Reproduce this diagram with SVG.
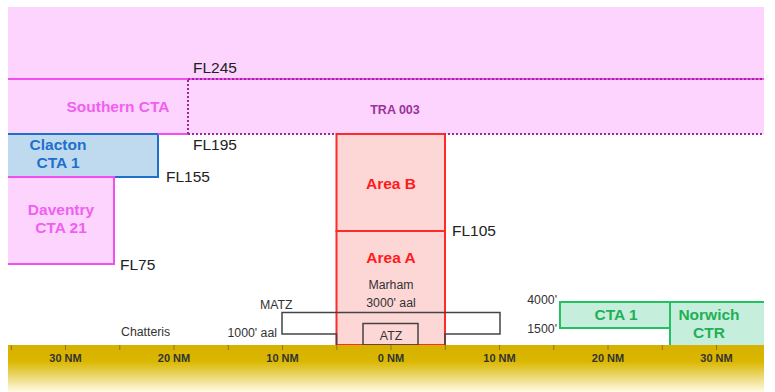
<svg xmlns="http://www.w3.org/2000/svg" width="775" height="392" viewBox="0 0 775 392">
<defs>
<linearGradient id="ground" x1="0" y1="0" x2="0" y2="1">
<stop offset="0" stop-color="#d6b100"/>
<stop offset="0.35" stop-color="#dab700"/>
<stop offset="1" stop-color="#fffbe6"/>
</linearGradient>
<style>
text{font-family:"Liberation Sans",Arial,sans-serif}
.fl{font-size:15.5px;fill:#222}
.sm{font-size:12.3px;fill:#333}
.tick{font-size:11px;font-weight:bold;fill:#333;text-anchor:middle}
.b{font-weight:bold;font-size:15.5px;text-anchor:middle}
.pink{fill:#fdd4fd}
.mag{stroke:#f050f0;stroke-width:2;fill:none}
.dot{stroke:#9a2a9a;stroke-width:2;stroke-dasharray:2 2;fill:none}
</style>
</defs>
<rect width="775" height="392" fill="#fff"/>
<g id="upper-airspace">
<rect class="pink" x="8" y="7" width="756" height="72"/>
</g>
<g id="southern-cta">
<rect class="pink" x="8" y="79" width="180" height="55"/>
<text class="b" x="118" y="112" fill="#f060f0">Southern CTA</text>
</g>
<g id="tra-003">
<rect class="pink" x="188" y="79" width="576" height="55"/>
<text x="395" y="114" font-size="12.5" font-weight="bold" fill="#993399" text-anchor="middle">TRA 003</text>
</g>
<g id="clacton-cta1">
<rect x="8" y="134" width="150" height="43" fill="#bfdaee"/>
<path d="M8 134H158V177H8" stroke="#1f6fcc" stroke-width="2" fill="none"/>
<text class="b" x="58" y="150" fill="#1f6fcc">Clacton</text>
<text class="b" x="58" y="168" fill="#1f6fcc">CTA 1</text>
</g>
<g id="daventry-cta21">
<rect x="8" y="177" width="106" height="87" fill="#fdd4fd"/>
<path d="M8 177H114V264H8" class="mag"/>
<text class="b" x="61" y="215" fill="#f060f0">Daventry</text>
<text class="b" x="61" y="233" fill="#f060f0">CTA 21</text>
</g>
<g id="area-b">
<rect x="336.5" y="134" width="108.5" height="97" fill="#fdd6d6" stroke="#ff2a2a" stroke-width="2"/>
<text class="b" x="391" y="189" fill="#ff1a1a">Area B</text>
</g>
<g id="area-a">
<rect x="336.5" y="231" width="108.5" height="114" fill="#fdd6d6" stroke="#ff2a2a" stroke-width="2"/>
<text class="b" x="391" y="263" fill="#ff1a1a">Area A</text>
<text class="sm" x="391" y="289" text-anchor="middle">Marham</text>
<text class="sm" x="391" y="307" text-anchor="middle">3000' aal</text>
</g>
<g id="matz">
<path d="M336.5 345V334H282V312.5H500V334H445V345" stroke="#444" stroke-width="1.5" fill="none"/>
<text class="sm" x="260" y="309">MATZ</text>
<text class="sm" x="277" y="337" text-anchor="end">1000' aal</text>
</g>
<g id="atz">
<rect x="363" y="323.5" width="55" height="21.5" fill="none" stroke="#444" stroke-width="1.5"/>
<text class="sm" x="391" y="340" text-anchor="middle">ATZ</text>
</g>
<g id="chatteris">
<text class="sm" x="121" y="336">Chatteris</text>
</g>
<g id="cta1-green">
<rect x="560" y="302" width="110" height="26" fill="#c6eedc" stroke="#22c060" stroke-width="2"/>
<text class="b" x="616" y="320" fill="#22b055">CTA 1</text>
<text class="sm" x="557" y="304" text-anchor="end">4000'</text>
<text class="sm" x="557" y="333" text-anchor="end">1500'</text>
</g>
<g id="norwich-ctr">
<rect x="670" y="302" width="94" height="43" fill="#c6eedc"/>
<path d="M670 345V302H764" stroke="#22c060" stroke-width="2" fill="none"/>
<text class="b" x="709" y="320" fill="#22b055">Norwich</text>
<text class="b" x="709" y="338" fill="#22b055">CTR</text>
</g>
<g id="boundaries">
<line x1="8" y1="79" x2="764" y2="79" class="mag"/>
<line x1="188" y1="79" x2="764" y2="79" class="dot"/>
<line x1="158" y1="134" x2="188" y2="134" class="mag"/>
<line x1="188" y1="134" x2="764" y2="134" class="dot"/>
<line x1="188" y1="80" x2="188" y2="134" class="dot"/>
<line x1="8" y1="134" x2="158" y2="134" stroke="#1f6fcc" stroke-width="2"/>
<line x1="336.5" y1="134" x2="445" y2="134" stroke="#ff2a2a" stroke-width="2"/>
</g>
<g id="levels">
<text class="fl" x="193" y="73">FL245</text>
<text class="fl" x="193" y="150">FL195</text>
<text class="fl" x="166" y="182">FL155</text>
<text class="fl" x="452" y="236">FL105</text>
<text class="fl" x="120" y="270">FL75</text>
</g>
<g id="ground">
<rect x="8" y="345" width="756" height="47" fill="url(#ground)"/>
<g stroke="#8a7630" stroke-width="1">
<line x1="11.3" y1="345" x2="11.3" y2="350"/>
<line x1="65.5" y1="345" x2="65.5" y2="350"/>
<line x1="119.8" y1="345" x2="119.8" y2="350"/>
<line x1="174" y1="345" x2="174" y2="350"/>
<line x1="228.3" y1="345" x2="228.3" y2="350"/>
<line x1="282.5" y1="345" x2="282.5" y2="350"/>
<line x1="336.8" y1="345" x2="336.8" y2="350"/>
<line x1="391" y1="345" x2="391" y2="350"/>
<line x1="445.3" y1="345" x2="445.3" y2="350"/>
<line x1="499.5" y1="345" x2="499.5" y2="350"/>
<line x1="553.8" y1="345" x2="553.8" y2="350"/>
<line x1="608" y1="345" x2="608" y2="350"/>
<line x1="662.3" y1="345" x2="662.3" y2="350"/>
<line x1="716.5" y1="345" x2="716.5" y2="350"/>
</g>
<text class="tick" x="65.5" y="362">30 NM</text>
<text class="tick" x="174" y="362">20 NM</text>
<text class="tick" x="282.5" y="362">10 NM</text>
<text class="tick" x="391" y="362">0 NM</text>
<text class="tick" x="499.5" y="362">10 NM</text>
<text class="tick" x="608" y="362">20 NM</text>
<text class="tick" x="716.5" y="362">30 NM</text>
</g>
</svg>
